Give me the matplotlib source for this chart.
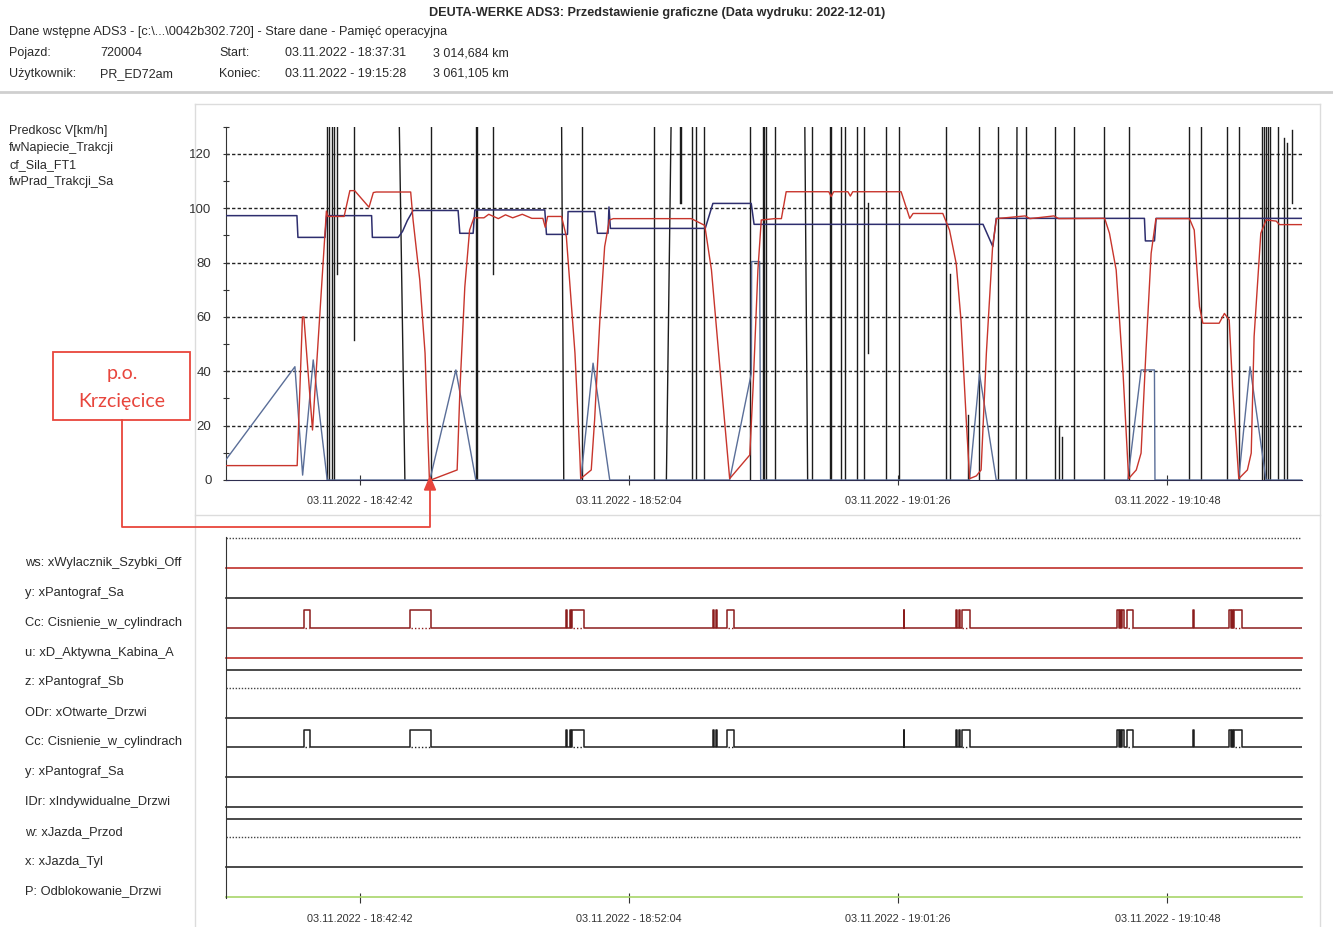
import matplotlib
matplotlib.use('Agg')
import matplotlib.pyplot as plt
from matplotlib.patches import Rectangle, Polygon
from matplotlib.lines import Line2D
from matplotlib.ticker import MultipleLocator

W, H = 1333, 927
NARROW = ['Liberation Sans Narrow', 'Liberation Sans', 'DejaVu Sans']
plt.rcParams['font.family'] = NARROW

# time axis: seconds since 03.11.2022 18:37:31
t_lim = (31.4, 2278)
tick_t = [311, 873, 1435, 1997]
tick_lbl = ['03.11.2022 - 18:42:42', '03.11.2022 - 18:52:04',
            '03.11.2022 - 19:01:26', '03.11.2022 - 19:10:48']

legend_top = ['Predkosc V[km/h]', 'fwNapiecie_Trakcji', 'cf_Sila_FT1', 'fwPrad_Trakcji_Sa']

# Predkosc V [km/h]
speed_t = [31, 180, 191, 194, 212, 241, 244, 278, 290, 300,
           330, 339, 345, 417, 422, 436, 447, 456, 459, 514,
           520, 530, 540, 549, 570, 580, 600, 615, 630, 650,
           670, 693, 698, 703, 732, 742, 760, 770, 772, 794,
           801, 812, 822, 832, 840, 1003, 1031, 1045, 1066, 1083,
           1125, 1132, 1142, 1149, 1177, 1191, 1201, 1290, 1295, 1300,
           1330, 1335, 1340, 1441, 1459, 1466, 1528, 1542, 1556, 1566,
           1577, 1584, 1598, 1608, 1619, 1632, 1640, 1700, 1710, 1760,
           1770, 1866, 1876, 1890, 1904, 1916, 1932, 1942, 1952, 1963,
           1973, 2043, 2053, 2064, 2071, 2105, 2116, 2126, 2133, 2146,
           2164, 2172, 2178, 2192, 2203, 2224, 2231, 2278]
speed_v = [5.3, 5.3, 60, 60, 18.4, 99, 97, 97, 106.5, 106.5,
           100.4, 105.8, 106, 106, 95.7, 73.6, 46.7, 0.5, 0, 3.7,
           34, 71, 92, 96.5, 96.5, 97.8, 96.2, 97.6, 96.5, 97.8,
           96.3, 96.3, 93, 97, 97, 89.6, 46.7, 9.9, 0.5, 3.7,
           22, 58.9, 85.9, 95.7, 96.2, 96.2, 93.7, 77.3, 34.4, 0.5,
           9.2, 34.4, 77.3, 95.7, 96.2, 96.2, 106.1, 106.1, 104.3, 106.1,
           106.1, 104.5, 106.1, 106.1, 96.3, 98.1, 98.1, 92, 79.7, 58.9,
           22, 0.5, 1.5, 3.7, 46.7, 85.9, 96.2, 97.2, 96.2, 97.2,
           96.2, 96.3, 90.8, 77.3, 40.5, 0.5, 3.7, 9.9, 46.7, 83.4,
           96.2, 96.2, 92, 63.8, 57.7, 57.7, 61.3, 58.9, 34.4, 0.5,
           3.7, 9.9, 52.8, 90.8, 95.7, 95.3, 94, 94]

# fwNapiecie_Trakcji
volt_t = [31, 179.5, 181.6, 238, 241.5, 335.4, 337, 391, 400, 410,
          422, 516, 519.6, 547.4, 551, 697, 700.5, 744.4, 745.6, 801.3,
          807, 829, 831, 834, 1032, 1048, 1128, 1134, 1612, 1632.5,
          1639.6, 1949, 1951, 1970, 1973.4, 2278]
volt_v = [97.3, 97.3, 89.3, 89.3, 97.3, 97.3, 89.3, 89.3, 91.5, 95.5,
          99.2, 99.2, 90.8, 90.8, 99.4, 99.4, 90.4, 90.4, 98.8, 98.8,
          90.8, 90.8, 100.5, 92.6, 92.6, 101.8, 101.8, 94.1, 94.1, 85.9,
          96.3, 96.3, 88, 88, 96.3, 96.3]

# fwPrad_Trakcji_Sa
prad_t = [31, 175.3, 191.4, 213.5, 242.7, 457, 511.3, 553, 772.1, 797.8,
          832.6, 1083, 1128.3, 1128.9, 1145.6, 1147.7, 1583.8, 1604.7, 1639.6, 1914.2,
          1942.1, 1969.9, 1971, 2145.7, 2169.5, 2202.9, 2278]
prad_v = [7.4, 41.7, 1.8, 44.2, 0, 0, 40.5, 0, 0, 43,
          0, 0, 39.3, 80.4, 80.4, 0, 0, 39, 0, 0,
          40.5, 40.5, 0, 0, 41.7, 0, 0]

# cf_Sila_FT1: jumps out of range, one stroke per switch
sila_tb = [243.2, 246.3, 252.5, 256.7, 264.0, 299.1, 404.9, 458.5, 553.0, 555.8,
           587.9, 736.6, 774.2, 924.4, 950.9, 978.7, 982.3, 1003.7, 1013.5, 1028.8,
           1126.2, 1151.9, 1155.0, 1158.1, 1178.4, 1245.8, 1255.6, 1291.7, 1295.2, 1314.6,
           1323.0, 1348.7, 1362.6, 1371.6, 1408.6, 1435.7, 1533.7, 1542.1, 1580.3, 1603.3,
           1643.0, 1681.2, 1702.1, 1763.3, 1771.6, 1777.9, 1802.9, 1864.0, 1917.7, 2043.0,
           2067.3, 2121.5, 2147.2, 2195.3, 2199.4, 2203.6, 2207.8, 2210.9, 2227.1, 2241.1,
           2247.3, 2256.3]
sila_tt = [243.2, 246.3, 252.5, 256.7, 264.0, 299.1, 392.4, 458.5, 553.0, 555.8,
           587.9, 731.8, 774.2, 924.4, 961.4, 978.7, 982.3, 1003.7, 1013.5, 1028.8,
           1126.2, 1151.9, 1155.0, 1158.1, 1178.4, 1239.5, 1255.6, 1291.7, 1295.2, 1314.6,
           1323.0, 1348.7, 1362.6, 1371.6, 1408.6, 1435.7, 1533.7, 1542.1, 1580.3, 1603.3,
           1643.0, 1683.0, 1702.1, 1763.3, 1771.6, 1777.9, 1802.9, 1864.0, 1917.7, 2043.0,
           2067.3, 2121.5, 2147.2, 2195.3, 2199.4, 2203.6, 2207.8, 2210.9, 2227.1, 2241.1,
           2247.3, 2256.3]
sila_lo = [0, 0, 0, 0, 76, 51.5, 0, 0, 0, 0,
           76, 0, 0, 0, 0, 101.8, 101.8, 0, 0, 0,
           0, 0, 0, 0, 0, 0, 0, 0, 0, 0,
           0, 0, 0, 46.7, 0, 0, 0, 0, 0, 0,
           0, 0, 0, 0, 0, 0, 0, 0, 0, 0,
           0, 0, 0, 0, 0, 0, 0, 0, 0, 0,
           0, 102]
sila_hi = [140, 140, 140, 140, 140, 140, 140, 140, 140, 140,
           140, 140, 140, 140, 140, 140, 140, 140, 140, 140,
           140, 140, 140, 140, 140, 140, 140, 140, 140, 140,
           140, 140, 140, 102, 140, 140, 140, 76, 24, 140,
           140, 140, 140, 140, 20, 16, 140, 140, 140, 140,
           140, 140, 140, 140, 140, 140, 140, 140, 140, 126,
           124, 129]

# binary channels
ch_labels = ['ws: xWylacznik_Szybki_Off', 'y: xPantograf_Sa', 'Cc: Cisnienie_w_cylindrach',
             'u: xD_Aktywna_Kabina_A', 'z: xPantograf_Sb', 'ODr: xOtwarte_Drzwi',
             'Cc: Cisnienie_w_cylindrach', 'y: xPantograf_Sa', 'IDr: xIndywidualne_Drzwi',
             'w: xJazda_Przod', 'x: xJazda_Tyl', 'P: Odblokowanie_Drzwi']
ch_state = ['low', 'low', 'pulse', 'low', 'high', 'low', 'pulse', 'low', 'low', 'high', 'low', 'low']
ch_color = ['#c0302a', '#2b2b2b', '#8b1c1c', '#c0302a', '#2b2b2b', '#2b2b2b',
            '#1e1e1e', '#2b2b2b', '#2b2b2b', '#2b2b2b', '#2b2b2b', '#a8d66a']

# Cisnienie_w_cylindrach on/off times
cc_on = [194.1, 416.4, 742.3, 749.2, 754.6, 1047.5, 1054.8, 1078.2, 1446.1, 1554.6,
         1560.9, 1567.1, 1892.6, 1897.8, 1903.0, 1913.6, 2051.2, 2126.3, 2131.6, 2136.8]
cc_off = [206.6, 460.4, 744.4, 751.3, 778.2, 1049.6, 1056.9, 1091.4, 1447.4, 1557.7,
          1564.0, 1583.8, 1895.7, 1900.9, 1907.2, 1926.0, 2052.5, 2129.5, 2134.7, 2153.5]


def fx(px):
    return px / W


def fy(py):
    return 1 - py / H


fig = plt.figure(figsize=(W / 100, H / 100), dpi=100)

""" header """
hdr = '#2a2a2a'
fig.text(fx(657), fy(13), 'DEUTA-WERKE ADS3: Przedstawienie graficzne (Data wydruku: 2022-12-01)',
         ha='center', va='center', fontsize=9.1, fontweight='bold', color=hdr)
fig.text(fx(9), fy(32), 'Dane wstępne ADS3 - [c:\\...\\0042b302.720] - Stare dane - Pamięć operacyjna',
         va='center', fontsize=9.2, color=hdr)
for y, row in [(53, ['Pojazd:', '720004', 'Start:', '03.11.2022 - 18:37:31', '3 014,684 km']),
               (74, ['Użytkownik:', 'PR_ED72am', 'Koniec:', '03.11.2022 - 19:15:28', '3 061,105 km'])]:
    for x, s in zip([9, 100, 219, 285, 433], row):
        fig.text(fx(x), fy(y), s, va='center', fontsize=9, color=hdr)
fig.add_artist(Line2D([0, 1], [fy(92), fy(92)], color='#cfcfcf', lw=2))

# panel frames
frame = '#dcdcdc'
fig.add_artist(Line2D([fx(195), fx(195)], [fy(104), 0], color=frame, lw=1))
fig.add_artist(Line2D([fx(1320), fx(1320)], [fy(104), 0], color=frame, lw=1))
fig.add_artist(Line2D([fx(195), fx(1320)], [fy(104), fy(104)], color=frame, lw=1))
fig.add_artist(Line2D([fx(195), fx(1320)], [fy(515), fy(515)], color=frame, lw=1))

""" top chart """
ax = fig.add_axes([fx(226), fy(480), fx(1302) - fx(226), (480 - 126.8) / H])
for v in range(20, 121, 20):
    ax.axhline(v, color='#222222', lw=1, ls=(0, (2.4, 1.6)), zorder=1)
ax.plot(prad_t, prad_v, color='#5a6e98', lw=1, zorder=3)
for tb, tt, lo, hi in zip(sila_tb, sila_tt, sila_lo, sila_hi):
    ax.plot([tb, tt], [lo, hi], color='#1c1c1c', lw=1.0, zorder=2)
ax.plot(volt_t, volt_v, color='#2e2e6e', lw=1.1, zorder=4)
ax.plot(speed_t, speed_v, color='#c8352c', lw=1, zorder=5)
ax.set_xlim(t_lim)
ax.set_ylim(0, 130)
ax.yaxis.set_major_locator(MultipleLocator(20))
ax.yaxis.set_minor_locator(MultipleLocator(10))
ax.set_xticks(tick_t, tick_lbl)
for s in ['top', 'right']:
    ax.spines[s].set_visible(False)
ax.spines['left'].set_color('#333333')
ax.spines['bottom'].set_color('#2e2e50')
ax.tick_params(axis='y', which='both', direction='inout', length=5, width=0.8,
               labelsize=9.5, pad=8, colors='#333333')
ax.tick_params(axis='x', direction='inout', length=7, width=0.8, labelsize=7.8, pad=8, colors='#333333')

for i, s in enumerate(legend_top):
    fig.text(fx(9), fy(131 + 17 * i), s, va='center', fontsize=9, color=hdr)

""" binary channels """
ax2 = fig.add_axes([fx(226), fy(897.6), fx(1302) - fx(226), 360.9 / H])
ax2.plot(t_lim, [12, 12], color='#444444', lw=1, ls=(0, (1, 1.2)))
for i, (lab, st, col) in enumerate(zip(ch_labels, ch_state, ch_color)):
    base = 11 - i
    if st == 'low':
        ax2.plot(t_lim, [base, base], color=col, lw=1.2, clip_on=False)
    elif st == 'high':
        ax2.plot(t_lim, [base + 0.6, base + 0.6], color=col, lw=1.2)
        ax2.plot(t_lim, [base, base], color='#444444', lw=1, ls=(0, (1, 1.2)))
    else:
        xs, ys = [t_lim[0]], [base]
        for on, off in zip(cc_on, cc_off):
            xs += [on, on, off, off]
            ys += [base, base + 0.6, base + 0.6, base]
            if off - on > 8:
                ax2.plot([on + 2, off - 2], [base, base], color=col, lw=1, ls=(0, (1, 1.5)))
        xs.append(t_lim[1])
        ys.append(base)
        ax2.plot(xs, ys, color=col, lw=1.1)
    fig.text(fx(25), fy(563 + 29.85 * i), lab, va='center', fontsize=9.3, color=hdr)
ax2.set_xlim(t_lim)
ax2.set_ylim(-0.02, 12.05)
ax2.set_yticks([])
ax2.set_xticks(tick_t, tick_lbl)
for s in ['top', 'right', 'bottom']:
    ax2.spines[s].set_visible(False)
ax2.spines['left'].set_color('#333333')
ax2.tick_params(axis='x', direction='inout', length=7, width=0.8, labelsize=7.8, pad=8, colors='#333333')

""" annotation """
red = '#e8453c'
fig.add_artist(Rectangle((fx(53), fy(420)), 137 / W, 68 / H, transform=fig.transFigure,
                         facecolor='white', edgecolor=red, lw=1.3))
fig.text(fx(122), fy(374), 'p.o.', ha='center', va='center', fontsize=14, color=red, family=['Lato', 'DejaVu Sans'])
fig.text(fx(122), fy(402), 'Krzcięcice', ha='center', va='center', fontsize=14, color=red, family=['Lato', 'DejaVu Sans'])
fig.add_artist(Line2D([fx(122), fx(122), fx(430), fx(430)], [fy(420), fy(527), fy(527), fy(489)],
                      color=red, lw=1.3))
fig.add_artist(Polygon([(fx(424.5), fy(490)), (fx(435.5), fy(490)), (fx(430), fy(477))],
                       closed=True, transform=fig.transFigure, color=red))

fig.savefig('out.png', dpi=100)
